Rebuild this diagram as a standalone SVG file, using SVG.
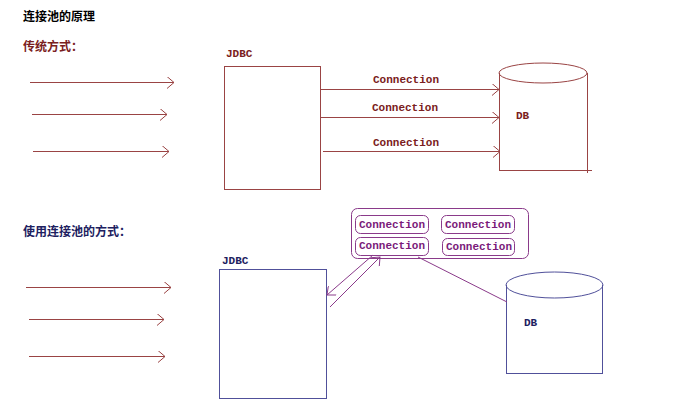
<svg xmlns="http://www.w3.org/2000/svg" width="693" height="409" viewBox="0 0 693 409">
  <style>
    .cjk { font-family: "Noto Sans CJK SC", sans-serif; font-size: 12px; font-weight: bold; }
    .lbl { font-family: "Liberation Mono", "DejaVu Sans Mono", monospace; font-size: 11px; font-weight: bold; }
    .red { fill: #7a2020; }
    .navy { fill: #202060; }
    .purple { fill: #7a1a7a; }
    .redline { stroke: #9a4444; stroke-width: 1; fill: none; }
    .navyline { stroke: #50509a; stroke-width: 1; fill: none; }
    .purpleline { stroke: #8a3a8a; stroke-width: 1; fill: none; }
  </style>
  <defs>
    <marker id="openRed" markerWidth="10" markerHeight="12" refX="8" refY="6" orient="auto" markerUnits="userSpaceOnUse">
      <path d="M1,0 L8,6 L1,12" fill="none" stroke="#9a4444" stroke-width="1"/>
    </marker>
    <marker id="openPurple" markerWidth="10" markerHeight="12" refX="8" refY="6" orient="auto" markerUnits="userSpaceOnUse">
      <path d="M1,0 L8,6 L1,12" fill="none" stroke="#8a3a8a" stroke-width="1"/>
    </marker>
  </defs>
  <rect width="693" height="409" fill="#ffffff"/>

  <!-- headings -->
  <text class="cjk" x="23" y="21" fill="#000000">连接池的原理</text>
  <text class="cjk red" x="23" y="51">传统方式：</text>
  <text class="cjk navy" x="23" y="236">使用连接池的方式：</text>

  <!-- traditional: JDBC node -->
  <g id="jdbc-traditional">
    <text class="lbl red" x="226" y="57" font-size="10">JDBC</text>
    <rect class="redline" x="224.5" y="66.5" width="96" height="123"/>
  </g>

  <!-- traditional: DB node -->
  <g id="db-traditional">
    <ellipse class="redline" cx="543" cy="73" rx="44" ry="10"/>
    <line class="redline" x1="499.5" y1="73" x2="499.5" y2="170"/>
    <line class="redline" x1="587.5" y1="73" x2="587.5" y2="173"/>
    <line class="redline" x1="499" y1="170.5" x2="592" y2="170.5"/>
    <text class="lbl red" x="516" y="119" font-size="10">DB</text>
  </g>

  <!-- pool: JDBC node -->
  <g id="jdbc-pool">
    <text class="lbl navy" x="222" y="264" font-size="10">JDBC</text>
    <rect class="navyline" x="219.5" y="269.5" width="107" height="129"/>
  </g>

  <!-- pool: connection pool node -->
  <g id="connection-pool">
    <rect class="purpleline" x="351.5" y="208.5" width="177" height="50" rx="6"/>
    <rect class="purpleline" x="355.5" y="215.5" width="73" height="18" rx="5"/>
    <rect class="purpleline" x="441.5" y="215.5" width="73" height="18" rx="5"/>
    <rect class="purpleline" x="355.5" y="237.5" width="73" height="18" rx="5"/>
    <rect class="purpleline" x="442.5" y="238.5" width="72" height="17" rx="5"/>
    <text class="lbl purple" x="359" y="228">Connection</text>
    <text class="lbl purple" x="445" y="228">Connection</text>
    <text class="lbl purple" x="359" y="249">Connection</text>
    <text class="lbl purple" x="446" y="250">Connection</text>
  </g>

  <!-- pool: DB node -->
  <g id="db-pool">
    <ellipse class="navyline" cx="554.5" cy="285" rx="48.5" ry="13"/>
    <line class="navyline" x1="506.5" y1="285" x2="506.5" y2="374"/>
    <line class="navyline" x1="602.5" y1="285" x2="602.5" y2="374"/>
    <line class="navyline" x1="506" y1="373.5" x2="603" y2="373.5"/>
    <text class="lbl navy" x="524" y="326" font-size="10">DB</text>
  </g>

  <!-- connectors -->
  <g id="connectors">
    <!-- traditional: incoming requests -->
    <line class="redline" x1="30" y1="82.5" x2="174" y2="82.5" marker-end="url(#openRed)"/>
    <line class="redline" x1="32" y1="114.5" x2="167" y2="114.5" marker-end="url(#openRed)"/>
    <line class="redline" x1="33" y1="151.5" x2="169" y2="151.5" marker-end="url(#openRed)"/>
    <!-- traditional: JDBC to DB -->
    <line class="redline" x1="321" y1="89.5" x2="499" y2="89.5" marker-end="url(#openRed)"/>
    <text class="lbl red" x="373" y="83">Connection</text>
    <line class="redline" x1="321" y1="117.5" x2="499" y2="117.5" marker-end="url(#openRed)"/>
    <text class="lbl red" x="372" y="111">Connection</text>
    <line class="redline" x1="323" y1="151.5" x2="500" y2="151.5" marker-end="url(#openRed)"/>
    <text class="lbl red" x="373" y="146">Connection</text>

    <!-- pool: incoming requests -->
    <line class="redline" x1="26" y1="287.5" x2="171" y2="287.5" marker-end="url(#openRed)"/>
    <line class="redline" x1="29" y1="319.5" x2="164" y2="319.5" marker-end="url(#openRed)"/>
    <line class="redline" x1="29" y1="356.5" x2="165" y2="356.5" marker-end="url(#openRed)"/>
    <!-- pool: JDBC <-> pool -->
    <line class="purpleline" x1="373" y1="255" x2="327" y2="295" marker-end="url(#openPurple)"/>
    <line class="purpleline" x1="330" y1="307" x2="380" y2="257" marker-end="url(#openPurple)"/>
    <!-- pool: pool to DB -->
    <line class="purpleline" x1="418" y1="257" x2="507" y2="302"/>
  </g>
</svg>
